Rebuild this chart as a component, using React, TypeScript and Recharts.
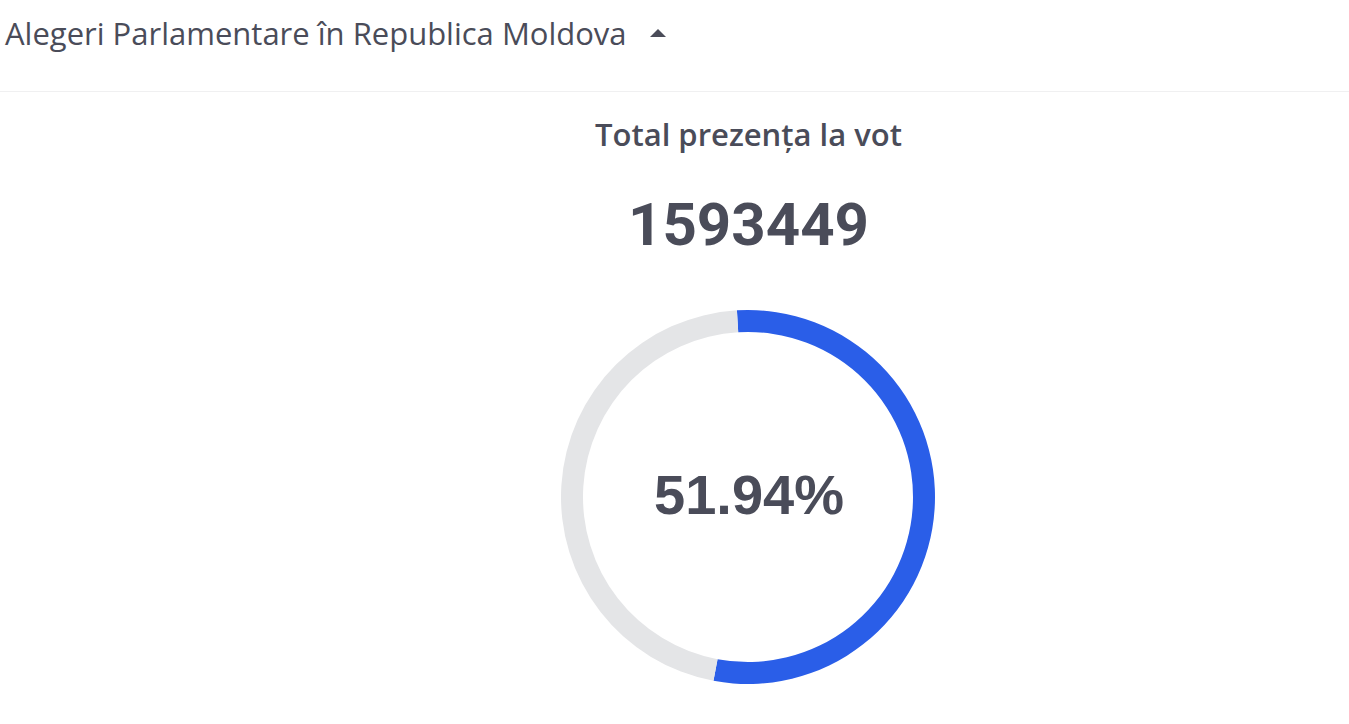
import { Cell, Label, Pie, PieChart } from 'recharts'

// ring split as drawn (the blue arc runs a little past the printed figure)
const SEGMENTS = ['Prezența', 'Absenți']
const ARC_SHARES = [53.9, 46.1]
const COLORS = ['#2a5ee8', '#e4e5e7']

const TITLE = 'Alegeri Parlamentare în Republica Moldova'
const SUBTITLE = 'Total prezența la vot'
const TOTAL_VOTES = 1593449
const TURNOUT_PCT = 51.94

const INK = '#4a4c59'
// arc starts slightly left of twelve o'clock
const START = 93.4

const data = SEGMENTS.map((name, i) => ({ name, value: ARC_SHARES[i] }))

export default function App() {
  return (
    <div style={{ position: 'absolute', left: 0, top: 0, width: 1349, height: 724, background: '#fff', overflow: 'hidden' }}>
      <div style={{
        position: 'absolute', left: 5, top: 12, fontFamily: '"Open Sans", sans-serif',
        fontSize: 31, color: INK, whiteSpace: 'nowrap', display: 'flex', alignItems: 'center',
      }}>
        <span>{TITLE}</span>
        <svg width={18} height={10} style={{ marginLeft: 22 }}>
          <path d="M1 9 L9 1 L17 9 Z" fill={INK} />
        </svg>
      </div>
      <div style={{ position: 'absolute', left: 0, top: 91, width: 1349, height: 1, background: '#f0f0f1' }} />

      <div style={{
        position: 'absolute', left: 0, width: 1497, top: 113, textAlign: 'center',
        fontFamily: '"Open Sans", sans-serif', fontWeight: 600, fontSize: 31, color: INK,
      }}>{SUBTITLE}</div>
      <div style={{
        position: 'absolute', left: 0, width: 1497, top: 190, textAlign: 'center',
        fontFamily: 'Roboto, sans-serif', fontWeight: 700, fontSize: 60, color: INK, lineHeight: '70px',
      }}>{TOTAL_VOTES}</div>

      <div style={{ position: 'absolute', left: 543, top: 292 }}>
        <PieChart width={400} height={400}>
          <Pie data={data} dataKey="value" nameKey="name" cx={200} cy={200}
               innerRadius={165} outerRadius={187} startAngle={START} endAngle={START - 360}
               stroke="none" isAnimationActive={false}>
            {data.map((d, i) => <Cell key={d.name} fill={COLORS[i]} />)}
            <Label position="center" value={`${TURNOUT_PCT.toFixed(2)}%`} dx={6} dy={2}
                   style={{ fontFamily: '"Liberation Sans", Arial, sans-serif', fontWeight: 700, fontSize: 56, fill: INK }} />
          </Pie>
        </PieChart>
      </div>
    </div>
  )
}
